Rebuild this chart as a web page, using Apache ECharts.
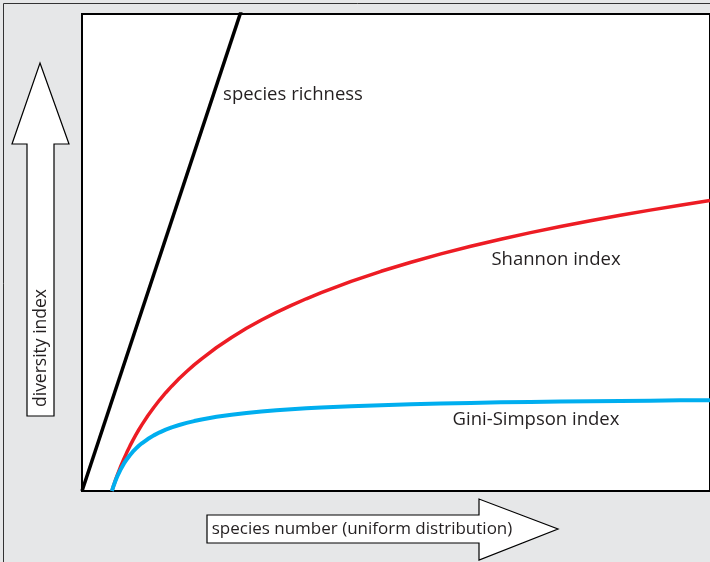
<!DOCTYPE html>
<html>
<head>
<meta charset="utf-8">
<script src="https://cdn.jsdelivr.net/npm/echarts@6/dist/echarts.min.js"></script>
<style>
html,body{margin:0;padding:0;background:#e6e7e8;}
#main{width:710px;height:562px;}
</style>
</head>
<body>
<div id="main"></div>
<script>
// species number (x) and index values
var speciesNum = [1, 1.05, 1.1, 1.15, 1.2, 1.3, 1.4, 1.5, 1.6, 1.7, 1.8, 1.9, 2, 2.2, 2.4, 2.6, 2.8, 3, 3.25, 3.5, 3.75, 4, 4.5, 5, 5.5, 6, 6.5, 7, 7.5, 8, 9, 10, 11, 12, 13, 14, 15, 16, 17, 18, 19, 20, 21];
var shannonVals = [0, 0.049, 0.095, 0.140, 0.182, 0.262, 0.336, 0.405, 0.470, 0.531, 0.588, 0.642, 0.693, 0.788, 0.875, 0.956, 1.030, 1.099, 1.179, 1.253, 1.322, 1.386, 1.504, 1.609, 1.705, 1.792, 1.872, 1.946, 2.015, 2.079, 2.197, 2.303, 2.398, 2.485, 2.565, 2.639, 2.708, 2.773, 2.833, 2.890, 2.944, 2.996, 3.045];
var giniVals = [0, 0.048, 0.091, 0.130, 0.167, 0.231, 0.286, 0.333, 0.375, 0.412, 0.444, 0.474, 0.500, 0.545, 0.583, 0.615, 0.643, 0.667, 0.692, 0.714, 0.733, 0.750, 0.778, 0.800, 0.818, 0.833, 0.846, 0.857, 0.867, 0.875, 0.889, 0.900, 0.909, 0.917, 0.923, 0.929, 0.933, 0.938, 0.941, 0.944, 0.947, 0.950, 0.952];
var richnessX = [0, 5.5];
var richnessY = [0, 5.2];

var txtColor = '#231f20';

function pairs(xs, ys) {
	var out = [];
	for (var i = 0; i < xs.length; i++) {
		out.push([xs[i], ys[i]]);
	}
	return out;
}

function label(text, x, y, size, rot) {
	return {
		type: 'text',
		x: x, y: y,
		rotation: rot || 0,
		z: 10,
		style: {
			text: text, font: size + 'px "Open Sans", sans-serif', fill: txtColor,
			textAlign: 'center', textVerticalAlign: 'middle',
			align: 'center', verticalAlign: 'middle'
		}
	};
}

var chart = echarts.init(document.getElementById('main'));
chart.setOption({
	backgroundColor: '#e6e7e8',
	animation: false,
	grid: {
		left: 82, top: 14, width: 653, height: 477,
		show: true, backgroundColor: '#fff', borderColor: '#000', borderWidth: 2
	},
	xAxis: {
		type: 'value', min: 0, max: 21,
		axisLine: {show: false}, axisTick: {show: false},
		axisLabel: {show: false}, splitLine: {show: false}
	},
	yAxis: {
		type: 'value', min: 0, max: 5,
		axisLine: {show: false}, axisTick: {show: false},
		axisLabel: {show: false}, splitLine: {show: false}
	},
	series: [
		{
			name: 'species richness', type: 'line', showSymbol: false,
			data: pairs(richnessX, richnessY),
			lineStyle: {color: '#000', width: 3.5}
		},
		{
			name: 'Shannon index', type: 'line', showSymbol: false,
			data: pairs(speciesNum, shannonVals),
			lineStyle: {color: '#ed1c24', width: 3.5, join: 'round'}
		},
		{
			name: 'Gini-Simpson index', type: 'line', showSymbol: false,
			data: pairs(speciesNum, giniVals),
			lineStyle: {color: '#00aeef', width: 4, join: 'round'}
		}
	],
	graphic: [
		// outer frame
		{
			type: 'rect', z: -10,
			shape: {x: 3.5, y: 3.5, width: 720, height: 570},
			style: {fill: 'none', stroke: '#333', lineWidth: 1}
		},
		// vertical arrow
		{
			type: 'polygon', z: 5,
			shape: {points: [[40, 63], [69, 144], [54, 144], [54, 416], [27, 416], [27, 144], [12, 144]]},
			style: {fill: '#fff', stroke: '#000', lineWidth: 1.2}
		},
		// horizontal arrow
		{
			type: 'polygon', z: 5,
			shape: {points: [[207, 515], [479, 515], [479, 499], [558, 529], [479, 560], [479, 543], [207, 543]]},
			style: {fill: '#fff', stroke: '#000', lineWidth: 1.2}
		},
		label('diversity index', 41, 348, 17.5, Math.PI / 2),
		label('species number (uniform distribution)', 362, 529, 17),
		label('species richness', 293, 95, 18.5),
		label('Shannon index', 556, 260, 18.5),
		label('Gini-Simpson index', 536, 420, 18.5)
	]
});
</script>
</body>
</html>
